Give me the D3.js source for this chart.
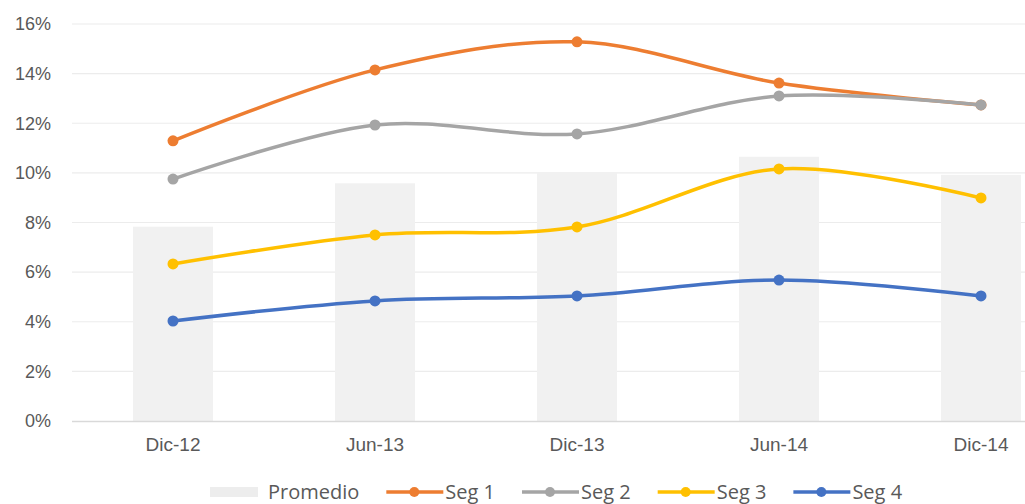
<!DOCTYPE html>
<html>
<head>
<meta charset="utf-8">
<script src="https://cdn.jsdelivr.net/npm/d3@7"></script>
<style>
  body { margin: 0; background: #fff; }
  svg { display: block; font-family: "Open Sans", "Noto Sans", sans-serif; }
  .tick text { fill: #595959; }
</style>
</head>
<body>
<svg width="1025" height="504"></svg>
<script>
const categories = ["Dic-12", "Jun-13", "Dic-13", "Jun-14", "Dic-14"];
const promedio = [7.83, 9.58, 10.0, 10.65, 9.92];
const seg1 = [11.29, 14.15, 15.28, 13.62, 12.74];
const seg2 = [9.75, 11.93, 11.57, 13.1, 12.74];
const seg3 = [6.33, 7.5, 7.82, 10.16, 8.99];
const seg4 = [4.03, 4.84, 5.04, 5.68, 5.04];
const yTicks = [0, 2, 4, 6, 8, 10, 12, 14, 16];

const series = [
    {name: "Seg 1", values: seg1, color: "#ED7D31"},
    {name: "Seg 2", values: seg2, color: "#A5A5A5"},
    {name: "Seg 3", values: seg3, color: "#FFC000"},
    {name: "Seg 4", values: seg4, color: "#4472C4"}
];

const svg = d3.select("svg");

const x = d3.scaleBand()
    .domain(categories)
    .range([72, 1082])
    .paddingInner(0.6)
    .paddingOuter(0.3);

const y = d3.scaleLinear()
    .domain([0, 16])
    .range([421, 24]);

// gridlines
svg.append("g")
    .selectAll("line")
    .data(yTicks.slice(1))
    .enter().append("line")
    .attr("x1", 72).attr("x2", 1025)
    .attr("y1", (d) => y(d)).attr("y2", (d) => y(d))
    .attr("stroke", "#ececec")
    .attr("stroke-width", 1.2);

// y axis labels
const yAxis = svg.append("g")
    .attr("transform", "translate(51,0)")
    .call(d3.axisLeft(y).tickValues(yTicks).tickSize(0).tickPadding(0).tickFormat((d) => d + "%"));
yAxis.select(".domain").remove();
yAxis.selectAll("text").style("font-size", "18px");

// bars
const cx = (d) => x(d) + x.bandwidth() / 2;
svg.append("g")
    .selectAll("rect")
    .data(categories)
    .enter().append("rect")
    .attr("x", (d) => cx(d) - 40)
    .attr("width", 80)
    .attr("y", (d, i) => y(promedio[i]))
    .attr("height", (d, i) => y(0) - y(promedio[i]))
    .attr("fill", "#F1F1F1");

// x axis
const xAxis = svg.append("g")
    .attr("transform", `translate(0,${y(0)})`)
    .call(d3.axisBottom(x).tickSize(0).tickPadding(17));
xAxis.select(".domain").attr("d", "M72,0.5H1025").attr("stroke", "#d9d9d9").attr("stroke-width", 1.5);
xAxis.selectAll("text").style("font-size", "19px");

// lines
const line = d3.line()
    .x((d, i) => cx(categories[i]))
    .y((d) => y(d))
    .curve(d3.curveCatmullRom.alpha(0.5));

series.forEach((s) => {
    const g = svg.append("g");
    g.append("path")
        .datum(s.values)
        .attr("d", line)
        .attr("fill", "none")
        .attr("stroke", s.color)
        .attr("stroke-width", 3.5);
    g.selectAll("circle")
        .data(s.values)
        .enter().append("circle")
        .attr("cx", (d, i) => cx(categories[i]))
        .attr("cy", (d) => y(d))
        .attr("r", 5.5)
        .attr("fill", s.color);
});

// legend
const legend = svg.append("g").attr("transform", "translate(0,492)");
let lx = 210;
const promItem = legend.append("g");
promItem.append("rect")
    .attr("x", lx).attr("y", -5).attr("width", 48).attr("height", 10)
    .attr("fill", "#EDEDED");
const pt = promItem.append("text")
    .attr("x", lx + 58).attr("dy", "0.35em")
    .style("font-size", "20px").attr("fill", "#595959")
    .text("Promedio");
lx = lx + 58 + pt.node().getComputedTextLength() + 27;

series.forEach((s) => {
    const item = legend.append("g");
    item.append("line")
        .attr("x1", lx).attr("x2", lx + 57)
        .attr("stroke", s.color).attr("stroke-width", 3.5);
    item.append("circle")
        .attr("cx", lx + 28).attr("r", 5).attr("fill", s.color);
    const t = item.append("text")
        .attr("x", lx + 59).attr("dy", "0.35em")
        .style("font-size", "20px").attr("fill", "#595959")
        .text(s.name);
    lx = lx + 59 + t.node().getComputedTextLength() + 27;
});
</script>
</body>
</html>
